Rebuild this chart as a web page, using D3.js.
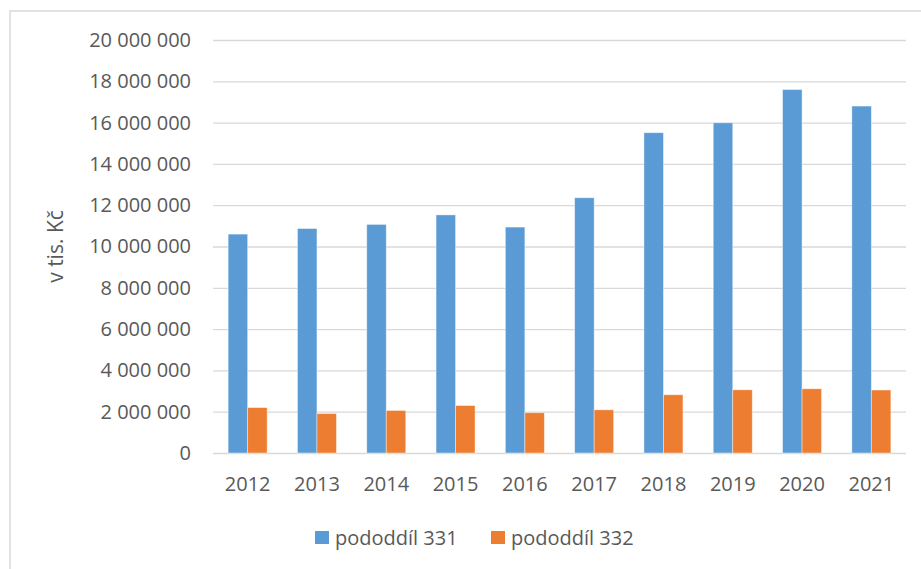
<!DOCTYPE html>
<html>
<head>
<meta charset="utf-8">
<script src="https://cdn.jsdelivr.net/npm/d3@7"></script>
<style>
  body { margin: 0; background: #fff; }
  text { font-family: "Open Sans", "Noto Sans", sans-serif; fill: #595959; }
</style>
</head>
<body>
<div id="chart"></div>
<script>
var years = ["2012", "2013", "2014", "2015", "2016", "2017", "2018", "2019", "2020", "2021"];
var seriesNames = ["pododdíl 331", "pododdíl 332"];
var values331 = [10600000, 10870000, 11070000, 11530000, 10940000, 12360000, 15510000, 15990000, 17600000, 16800000];
var values332 = [2200000, 1910000, 2060000, 2300000, 1950000, 2090000, 2820000, 3060000, 3110000, 3050000];
var yTicks = [0, 2000000, 4000000, 6000000, 8000000, 10000000, 12000000, 14000000, 16000000, 18000000, 20000000];
var colors = ["#5b9bd5", "#ed7d31"];

var W = 921, H = 569;
var plotLeft = 213, plotRight = 906, plotTop = 40, plotBottom = 453;

var svg = d3.select("#chart").append("svg")
    .attr("width", W)
    .attr("height", H);

// ramecek grafu (presahuje za okraj)
svg.append("rect")
    .attr("x", 10).attr("y", 11)
    .attr("width", 930).attr("height", 580)
    .attr("fill", "none")
    .attr("stroke", "#d9d9d9")
    .attr("stroke-width", 1.5);

var x = d3.scaleBand().domain(years).range([plotLeft, plotRight]).paddingInner(0).paddingOuter(0);
var y = d3.scaleLinear().domain([0, 20000000]).range([plotBottom, plotTop]);

var fmt = function(v) { return d3.format(",")(v).replace(/,/g, " "); };

// mrizka + popisky osy y
var yAxis = svg.append("g")
    .attr("transform", "translate(" + plotLeft + ",0)")
    .call(d3.axisLeft(y).tickValues(yTicks).tickSize(-(plotRight - plotLeft)).tickPadding(22).tickFormat(fmt));
yAxis.select(".domain").remove();
yAxis.selectAll("line").attr("stroke", "#d9d9d9").attr("stroke-width", 1.3);
yAxis.selectAll("text")
    .attr("font-size", 20)
    .attr("font-family", "\"Open Sans\", sans-serif")
    .attr("fill", "#595959");

// osa x
var xAxis = svg.append("g")
    .attr("transform", "translate(0," + plotBottom + ")")
    .call(d3.axisBottom(x).tickSize(0).tickPadding(24));
xAxis.select(".domain").remove();
xAxis.selectAll("text")
    .attr("font-size", 20)
    .attr("font-family", "\"Open Sans\", sans-serif")
    .attr("fill", "#595959");

// sloupce
var barW = 19.5;
var xs = d3.scaleBand().domain(seriesNames).range([x.bandwidth() / 2 - barW, x.bandwidth() / 2 + barW]);
var rows = years.map(function(yr, i) { return { year: yr, vals: [values331[i], values332[i]] }; });

var groups = svg.append("g").selectAll("g")
    .data(rows)
    .enter().append("g")
    .attr("transform", function(d) { return "translate(" + x(d.year) + ",0)"; });

groups.selectAll("rect")
    .data(function(d) { return d.vals.map(function(v, k) { return { name: seriesNames[k], v: v, k: k }; }); })
    .enter().append("rect")
    .attr("x", function(d) { return xs(d.name); })
    .attr("width", xs.bandwidth())
    .attr("y", function(d) { return y(d.v); })
    .attr("height", function(d) { return y(0) - y(d.v); })
    .attr("fill", function(d) { return colors[d.k]; })
    .attr("stroke", "#fff")
    .attr("stroke-opacity", 0.5)
    .attr("stroke-width", 0.8);

// popisek osy y
svg.append("text")
    .attr("transform", "translate(63," + ((plotTop + plotBottom) / 2) + ") rotate(-90)")
    .attr("text-anchor", "middle")
    .attr("font-size", 21)
    .text("v tis. Kč");

// legenda
var legend = svg.append("g");
var legX = [315, 491];
seriesNames.forEach(function(n, k) {
    legend.append("rect")
        .attr("x", legX[k]).attr("y", 531)
        .attr("width", 14).attr("height", 13)
        .attr("fill", colors[k]);
    legend.append("text")
        .attr("x", legX[k] + 20).attr("y", 545)
        .attr("font-size", 20)
        .text(n);
});
</script>
</body>
</html>
